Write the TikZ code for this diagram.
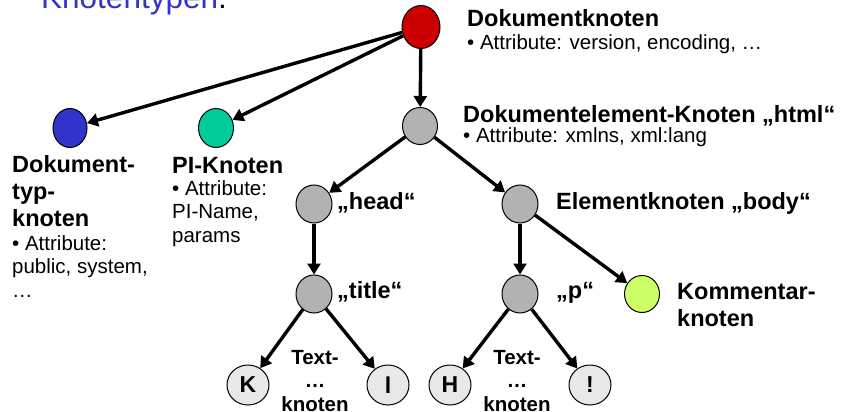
\documentclass[tikz,border=0pt]{standalone}
\usepackage{fontspec}
\setmainfont{Liberation Sans}
\usepackage{tikz}
\definecolor{cred}{RGB}{204, 0, 0}
\definecolor{cblue}{RGB}{51, 51, 204}
\definecolor{cgreen}{RGB}{0, 204, 153}
\definecolor{cgray}{RGB}{178, 178, 178}
\definecolor{cleaf}{RGB}{232, 232, 232}
\definecolor{ccomment}{RGB}{204, 255, 102}
\usetikzlibrary{arrows.meta}
\usetikzlibrary{shapes.geometric}

\begin{document}
\begin{tikzpicture}[knot/.style={ellipse, inner sep=0pt, minimum width=36pt, minimum height=38pt, line width=1pt, draw=black},
  leaf/.style={knot, fill=cleaf, minimum width=42pt, minimum height=40pt, font=\fontsize{23}{23}\selectfont\bfseries},
  edge/.style={line width=3.4pt, color=black, -{Triangle[length=11pt, width=13pt]}},
  bold/.style={inner sep=0pt, anchor=base west, align=left, font=\fontsize{23.5}{26.7}\selectfont\bfseries},
  plain/.style={inner sep=0pt, anchor=base west, align=left, font=\fontsize{20.5}{23.3}\selectfont},
  leaftext/.style={inner sep=0pt, anchor=base, align=center, font=\fontsize{20.5}{23.5}\selectfont\bfseries}]
\useasboundingbox (0pt, 0pt) rectangle (846pt, -412pt);
\clip (0pt, 0pt) rectangle (846pt, -412pt);
\node (head1) [inner sep=0pt, anchor=base west, font=\fontsize{31.5}{31.5}\selectfont] at (41pt, -9pt) {\textcolor{cblue}{Knotentypen}:};
% nodes of the tree
\node (root) [knot, fill=cred, minimum width=38pt, minimum height=43pt] at (421pt, -27pt) {};
\node (dt) [knot, fill=cblue, minimum width=34pt, minimum height=39pt] at (70pt, -128pt) {};
\node (pi) [knot, fill=cgreen, minimum width=35pt, minimum height=39pt] at (216pt, -128pt) {};
\node (html) [knot, fill=cgray, minimum width=35pt, minimum height=37pt] at (420pt, -126pt) {};
\node (head) [knot, fill=cgray] at (314pt, -204pt) {};
\node (body) [knot, fill=cgray] at (520pt, -204pt) {};
\node (title) [knot, fill=cgray] at (314pt, -294pt) {};
\node (p) [knot, fill=cgray] at (520pt, -294pt) {};
\node (com) [knot, fill=ccomment, minimum width=35pt, minimum height=37pt] at (642pt, -294pt) {};
\node (k) [leaf] at (248pt, -385pt) {K};
\node (l) [leaf] at (388pt, -385pt) {l};
\node (h) [leaf] at (450pt, -385pt) {H};
\node (ex) [leaf] at (590pt, -385pt) {!};
% connectors
\draw [edge] (root) to (dt);
\draw [edge] (root) to (pi);
\draw [edge] (root) to (html);
\draw [edge] (html) to (head);
\draw [edge] (html) to (body);
\draw [edge] (head) to (title);
\draw [edge] (body) to (p);
\draw [edge] (body) to (com);
\draw [edge] (title) to (k);
\draw [edge] (title) to (l);
\draw [edge] (p) to (h);
\draw [edge] (p) to (ex);
% labels
\node (rootlab) [bold] at (467pt, -27pt) {Dokumentknoten};
\node (rootatt) [plain] at (467pt, -50pt) {• Attribute: version, encoding, …};
\node (htmllab) [bold] at (463pt, -122pt) {Dokumentelement-Knoten „html“};
\node (htmlatt) [plain] at (463pt, -142pt) {• Attribute: xmlns, xml:lang};
\node (dtlab) [bold] at (12pt, -226pt) {Dokument-\\typ-\\knoten};
\node (dtatt) [plain] at (12pt, -297pt) {• Attribute:\\public, system,\\…};
\node (pilab) [bold] at (172pt, -173pt) {PI-Knoten};
\node (piatt) [plain] at (172pt, -242pt) {• Attribute:\\PI-Name,\\params};
\node (headlab) [bold] at (337pt, -209pt) {„head“};
\node (titlelab) [bold] at (337pt, -298pt) {„title“};
\node (bodylab) [bold] at (556pt, -209pt) {Elementknoten „body“};
\node (plab) [bold] at (556pt, -298pt) {„p“};
\node (comlab) [bold] at (677pt, -326pt) {Kommentar-\\knoten};
\node (text1) [leaftext] at (315pt, -411pt) {Text-\\…\\knoten};
\node (text2) [leaftext] at (517pt, -411pt) {Text-\\…\\knoten};
\end{tikzpicture}
\end{document}
